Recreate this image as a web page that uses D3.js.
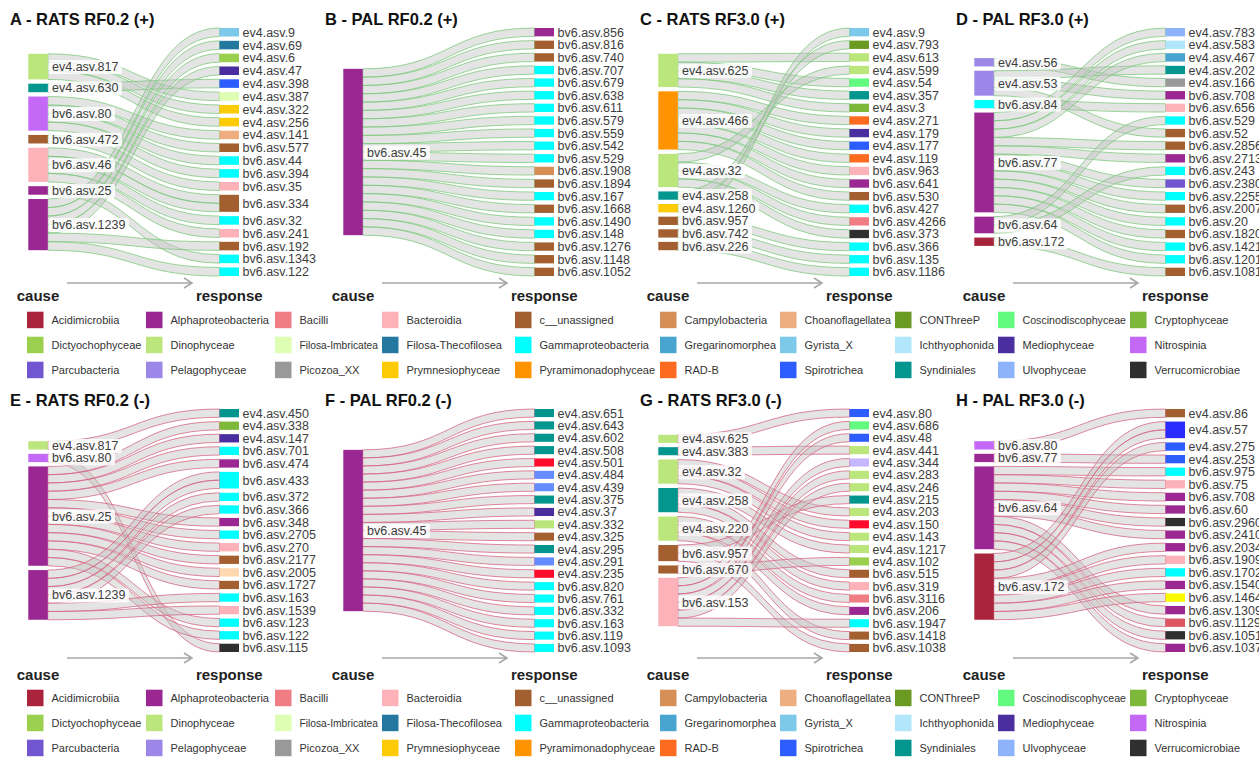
<!DOCTYPE html>
<html>
<head>
<meta charset="utf-8">
<script src="https://cdn.jsdelivr.net/npm/d3@7"></script>
<style>
  html, body { margin: 0; padding: 0; background: #fff; }
  svg { display: block; font-family: "Liberation Sans", Arial, sans-serif; }
</style>
</head>
<body>
<svg id="chart" width="1259" height="757"></svg>
<script>
// ---------------------------------------------------------------
// Legend classes and their colours (alphabetical, 10 per row)
// ---------------------------------------------------------------
const legendClasses = [
  "Acidimicrobiia","Alphaproteobacteria","Bacilli","Bacteroidia","c__unassigned",
  "Campylobacteria","Choanoflagellatea","CONThreeP","Coscinodiscophyceae","Cryptophyceae",
  "Dictyochophyceae","Dinophyceae","Filosa-Imbricatea","Filosa-Thecofilosea","Gammaproteobacteria",
  "Gregarinomorphea","Gyrista_X","Ichthyophonida","Mediophyceae","Nitrospinia",
  "Parcubacteria","Pelagophyceae","Picozoa_XX","Prymnesiophyceae","Pyramimonadophyceae",
  "RAD-B","Spirotrichea","Syndiniales","Ulvophyceae","Verrucomicrobiae"
];
const legendColors = [
  "#a8233b","#9b2793","#f07c84","#fdb1b8","#a35f30",
  "#d68f57","#eeae80","#6a9a22","#62fb80","#7db83a",
  "#9bd04e","#bbe67b","#defeb3","#24789f","#00ffff",
  "#47a5d0","#7dc9ea","#b2e6fb","#4a2d9e","#c468f8",
  "#7255d0","#9c87e8","#999999","#fdca06","#ff9400",
  "#fd6b20","#2d5dff","#02968e","#8cb3fb","#2f2f2f"
];
// classes that appear on nodes but are not part of the legend
const unlistedClasses = ["unlisted_red","unlisted_blue","unlisted_deepblue","unlisted_yellow","unlisted_lavender","unlisted_peach","unlisted_rose"];
const unlistedColors  = ["#ff0c2c","#668dff","#2a2cff","#fafa00","#c6b6ff","#ffd8b0","#dc5560"];

// ---------------------------------------------------------------
// A - RATS RF0.2 (+)
// ---------------------------------------------------------------
const panelA_cause = ["ev4.asv.817","ev4.asv.630","bv6.asv.80","bv6.asv.472","bv6.asv.46","bv6.asv.25","bv6.asv.1239"];
const panelA_causeClass = ["Dinophyceae","Syndiniales","Nitrospinia","c__unassigned","Bacteroidia","Alphaproteobacteria","Alphaproteobacteria"];
const panelA_response = ["ev4.asv.9","ev4.asv.69","ev4.asv.6","ev4.asv.47","ev4.asv.398","ev4.asv.387","ev4.asv.322","ev4.asv.256","ev4.asv.141","bv6.asv.577","bv6.asv.44","bv6.asv.394","bv6.asv.35","bv6.asv.334","bv6.asv.32","bv6.asv.241","bv6.asv.192","bv6.asv.1343","bv6.asv.122"];
const panelA_responseClass = ["Gyrista_X","Filosa-Thecofilosea","Dictyochophyceae","Mediophyceae","Spirotrichea","Filosa-Imbricatea","Prymnesiophyceae","Prymnesiophyceae","Choanoflagellatea","c__unassigned","Gammaproteobacteria","Gammaproteobacteria","Bacteroidia","c__unassigned","Gammaproteobacteria","Bacteroidia","c__unassigned","Gammaproteobacteria","Gammaproteobacteria"];
const panelA_links = [
  ["ev4.asv.817", ["ev4.asv.387","ev4.asv.322","ev4.asv.256"]],
  ["ev4.asv.630", ["ev4.asv.398"]],
  ["bv6.asv.80", ["ev4.asv.141","bv6.asv.577","bv6.asv.44","bv6.asv.394"]],
  ["bv6.asv.472", ["bv6.asv.35"]],
  ["bv6.asv.46", ["bv6.asv.334","bv6.asv.334","bv6.asv.32","bv6.asv.241"]],
  ["bv6.asv.25", ["bv6.asv.1343"]],
  ["bv6.asv.1239", ["ev4.asv.9","ev4.asv.69","ev4.asv.6","ev4.asv.47","bv6.asv.192","bv6.asv.122"]]
];

// ---------------------------------------------------------------
// B - PAL RF0.2 (+)
// ---------------------------------------------------------------
const panelB_cause = ["bv6.asv.45"];
const panelB_causeClass = ["Alphaproteobacteria"];
const panelB_response = ["bv6.asv.856","bv6.asv.816","bv6.asv.740","bv6.asv.707","bv6.asv.679","bv6.asv.638","bv6.asv.611","bv6.asv.579","bv6.asv.559","bv6.asv.542","bv6.asv.529","bv6.asv.1908","bv6.asv.1894","bv6.asv.167","bv6.asv.1668","bv6.asv.1490","bv6.asv.148","bv6.asv.1276","bv6.asv.1148","bv6.asv.1052"];
const panelB_responseClass = ["Alphaproteobacteria","c__unassigned","c__unassigned","Gammaproteobacteria","Gammaproteobacteria","Gammaproteobacteria","Gammaproteobacteria","Gammaproteobacteria","Gammaproteobacteria","Gammaproteobacteria","Gammaproteobacteria","Campylobacteria","c__unassigned","Gammaproteobacteria","c__unassigned","Gammaproteobacteria","Gammaproteobacteria","c__unassigned","c__unassigned","c__unassigned"];
const panelB_links = [
  ["bv6.asv.45", panelB_response]
];

// ---------------------------------------------------------------
// C - RATS RF3.0 (+)
// ---------------------------------------------------------------
const panelC_cause = ["ev4.asv.625","ev4.asv.466","ev4.asv.32","ev4.asv.258","ev4.asv.1260","bv6.asv.957","bv6.asv.742","bv6.asv.226"];
const panelC_causeClass = ["Dinophyceae","Pyramimonadophyceae","Dinophyceae","Syndiniales","Prymnesiophyceae","c__unassigned","c__unassigned","c__unassigned"];
const panelC_response = ["ev4.asv.9","ev4.asv.793","ev4.asv.613","ev4.asv.599","ev4.asv.54","ev4.asv.357","ev4.asv.3","ev4.asv.271","ev4.asv.179","ev4.asv.177","ev4.asv.119","bv6.asv.963","bv6.asv.641","bv6.asv.530","bv6.asv.427","bv6.asv.4266","bv6.asv.373","bv6.asv.366","bv6.asv.135","bv6.asv.1186"];
const panelC_responseClass = ["Gyrista_X","CONThreeP","Dinophyceae","Dinophyceae","Coscinodiscophyceae","Syndiniales","Cryptophyceae","RAD-B","Mediophyceae","Spirotrichea","RAD-B","Bacteroidia","Alphaproteobacteria","c__unassigned","Gammaproteobacteria","Bacilli","Verrucomicrobiae","Gammaproteobacteria","Gammaproteobacteria","Gammaproteobacteria"];
const panelC_links = [
  ["ev4.asv.625", ["ev4.asv.613","ev4.asv.54","ev4.asv.357","ev4.asv.3"]],
  ["ev4.asv.466", ["ev4.asv.271","ev4.asv.179","ev4.asv.177","ev4.asv.119","bv6.asv.963","bv6.asv.641","bv6.asv.530"]],
  ["ev4.asv.32", ["ev4.asv.599","bv6.asv.427","bv6.asv.4266","bv6.asv.373"]],
  ["ev4.asv.258", ["ev4.asv.793"]],
  ["ev4.asv.1260", ["ev4.asv.9"]],
  ["bv6.asv.957", ["bv6.asv.366"]],
  ["bv6.asv.742", ["bv6.asv.135"]],
  ["bv6.asv.226", ["bv6.asv.1186"]]
];

// ---------------------------------------------------------------
// D - PAL RF3.0 (+)
// ---------------------------------------------------------------
const panelD_cause = ["ev4.asv.56","ev4.asv.53","bv6.asv.84","bv6.asv.77","bv6.asv.64","bv6.asv.172"];
const panelD_causeClass = ["Pelagophyceae","Pelagophyceae","Gammaproteobacteria","Alphaproteobacteria","Alphaproteobacteria","Acidimicrobiia"];
const panelD_response = ["ev4.asv.783","ev4.asv.583","ev4.asv.467","ev4.asv.202","ev4.asv.166","bv6.asv.708","bv6.asv.656","bv6.asv.529","bv6.asv.52","bv6.asv.2856","bv6.asv.2713","bv6.asv.243","bv6.asv.2380","bv6.asv.2255","bv6.asv.2007","bv6.asv.20","bv6.asv.1820","bv6.asv.1421","bv6.asv.1201","bv6.asv.1081"];
const panelD_responseClass = ["Ulvophyceae","Ichthyophonida","Gregarinomorphea","Syndiniales","Picozoa_XX","Alphaproteobacteria","Bacteroidia","Gammaproteobacteria","c__unassigned","c__unassigned","Alphaproteobacteria","Gammaproteobacteria","Parcubacteria","Gammaproteobacteria","c__unassigned","Gammaproteobacteria","c__unassigned","Gammaproteobacteria","Gammaproteobacteria","c__unassigned"];
const panelD_links = [
  ["ev4.asv.56", ["ev4.asv.166"]],
  ["ev4.asv.53", ["ev4.asv.202","bv6.asv.708","bv6.asv.52"]],
  ["bv6.asv.84", ["bv6.asv.656"]],
  ["bv6.asv.77", ["ev4.asv.783","ev4.asv.583","ev4.asv.467","bv6.asv.2856","bv6.asv.2713","bv6.asv.2380","bv6.asv.2255","bv6.asv.2007","bv6.asv.20","bv6.asv.1820","bv6.asv.1421","bv6.asv.1201"]],
  ["bv6.asv.64", ["bv6.asv.529","bv6.asv.243"]],
  ["bv6.asv.172", ["bv6.asv.1081"]]
];

// ---------------------------------------------------------------
// E - RATS RF0.2 (-)
// ---------------------------------------------------------------
const panelE_cause = ["ev4.asv.817","bv6.asv.80","bv6.asv.25","bv6.asv.1239"];
const panelE_causeClass = ["Dinophyceae","Nitrospinia","Alphaproteobacteria","Alphaproteobacteria"];
const panelE_response = ["ev4.asv.450","ev4.asv.338","ev4.asv.147","bv6.asv.701","bv6.asv.474","bv6.asv.433","bv6.asv.372","bv6.asv.366","bv6.asv.348","bv6.asv.2705","bv6.asv.270","bv6.asv.2177","bv6.asv.2005","bv6.asv.1727","bv6.asv.163","bv6.asv.1539","bv6.asv.123","bv6.asv.122","bv6.asv.115"];
const panelE_responseClass = ["Syndiniales","Cryptophyceae","Mediophyceae","Gammaproteobacteria","Alphaproteobacteria","Gammaproteobacteria","Gammaproteobacteria","Gammaproteobacteria","Alphaproteobacteria","Gammaproteobacteria","Bacteroidia","c__unassigned","unlisted_peach","c__unassigned","Gammaproteobacteria","Bacteroidia","Gammaproteobacteria","Gammaproteobacteria","Verrucomicrobiae"];
const panelE_links = [
  ["ev4.asv.817", ["ev4.asv.450"]],
  ["bv6.asv.80", ["bv6.asv.115"]],
  ["bv6.asv.25", ["ev4.asv.338","ev4.asv.147","bv6.asv.701","bv6.asv.474","bv6.asv.348","bv6.asv.2705","bv6.asv.270","bv6.asv.2177","bv6.asv.2005","bv6.asv.1727","bv6.asv.123","bv6.asv.122"]],
  ["bv6.asv.1239", ["bv6.asv.433","bv6.asv.433","bv6.asv.372","bv6.asv.366","bv6.asv.163","bv6.asv.1539"]]
];

// ---------------------------------------------------------------
// F - PAL RF0.2 (-)
// ---------------------------------------------------------------
const panelF_cause = ["bv6.asv.45"];
const panelF_causeClass = ["Alphaproteobacteria"];
const panelF_response = ["ev4.asv.651","ev4.asv.643","ev4.asv.602","ev4.asv.508","ev4.asv.501","ev4.asv.484","ev4.asv.439","ev4.asv.375","ev4.asv.37","ev4.asv.332","ev4.asv.325","ev4.asv.295","ev4.asv.291","ev4.asv.235","bv6.asv.820","bv6.asv.761","bv6.asv.332","bv6.asv.163","bv6.asv.119","bv6.asv.1093"];
const panelF_responseClass = ["Syndiniales","Syndiniales","Syndiniales","Syndiniales","unlisted_red","unlisted_blue","unlisted_blue","Syndiniales","Mediophyceae","Dinophyceae","c__unassigned","Syndiniales","unlisted_blue","unlisted_red","Gammaproteobacteria","Gammaproteobacteria","Gammaproteobacteria","Gammaproteobacteria","Gammaproteobacteria","Gammaproteobacteria"];
const panelF_links = [
  ["bv6.asv.45", panelF_response]
];

// ---------------------------------------------------------------
// G - RATS RF3.0 (-)
// ---------------------------------------------------------------
const panelG_cause = ["ev4.asv.625","ev4.asv.383","ev4.asv.32","ev4.asv.258","ev4.asv.220","bv6.asv.957","bv6.asv.670","bv6.asv.153"];
const panelG_causeClass = ["Dinophyceae","Syndiniales","Dinophyceae","Syndiniales","Dinophyceae","c__unassigned","c__unassigned","Bacteroidia"];
const panelG_response = ["ev4.asv.80","ev4.asv.686","ev4.asv.48","ev4.asv.441","ev4.asv.344","ev4.asv.283","ev4.asv.246","ev4.asv.215","ev4.asv.203","ev4.asv.150","ev4.asv.143","ev4.asv.1217","ev4.asv.102","bv6.asv.515","bv6.asv.319","bv6.asv.3116","bv6.asv.206","bv6.asv.1947","bv6.asv.1418","bv6.asv.1038"];
const panelG_responseClass = ["Spirotrichea","Coscinodiscophyceae","Spirotrichea","Dinophyceae","unlisted_lavender","Dinophyceae","Dinophyceae","Syndiniales","Dinophyceae","unlisted_red","Dinophyceae","Dinophyceae","Dictyochophyceae","c__unassigned","Bacteroidia","Bacilli","Alphaproteobacteria","Gammaproteobacteria","c__unassigned","c__unassigned"];
const panelG_links = [
  ["ev4.asv.625", ["ev4.asv.80"]],
  ["ev4.asv.383", ["ev4.asv.441"]],
  ["ev4.asv.32", ["ev4.asv.203","ev4.asv.150","ev4.asv.143"]],
  ["ev4.asv.258", ["ev4.asv.1217","bv6.asv.515","bv6.asv.319"]],
  ["ev4.asv.220", ["bv6.asv.3116","bv6.asv.206","bv6.asv.1418"]],
  ["bv6.asv.957", ["ev4.asv.215","bv6.asv.1038"]],
  ["bv6.asv.670", ["ev4.asv.102"]],
  ["bv6.asv.153", ["ev4.asv.686","ev4.asv.48","ev4.asv.344","ev4.asv.283","ev4.asv.246","bv6.asv.1947"]]
];

// ---------------------------------------------------------------
// H - PAL RF3.0 (-)
// ---------------------------------------------------------------
const panelH_cause = ["bv6.asv.80","bv6.asv.77","bv6.asv.64","bv6.asv.172"];
const panelH_causeClass = ["Nitrospinia","Alphaproteobacteria","Alphaproteobacteria","Acidimicrobiia"];
const panelH_response = ["ev4.asv.86","ev4.asv.57","ev4.asv.275","ev4.asv.253","bv6.asv.975","bv6.asv.75","bv6.asv.708","bv6.asv.60","bv6.asv.2960","bv6.asv.2410","bv6.asv.2034","bv6.asv.1909","bv6.asv.1702","bv6.asv.1540","bv6.asv.1464","bv6.asv.1309","bv6.asv.1129","bv6.asv.1051","bv6.asv.1037"];
const panelH_responseClass = ["c__unassigned","unlisted_deepblue","Spirotrichea","Spirotrichea","Gammaproteobacteria","Bacteroidia","Alphaproteobacteria","Alphaproteobacteria","Verrucomicrobiae","Alphaproteobacteria","Alphaproteobacteria","Bacteroidia","Gammaproteobacteria","Alphaproteobacteria","unlisted_yellow","Alphaproteobacteria","unlisted_rose","Verrucomicrobiae","Alphaproteobacteria"];
const panelH_links = [
  ["bv6.asv.80", ["ev4.asv.86"]],
  ["bv6.asv.77", ["ev4.asv.253"]],
  ["bv6.asv.64", ["bv6.asv.975","bv6.asv.75","bv6.asv.708","bv6.asv.60","bv6.asv.2960","bv6.asv.2410","bv6.asv.1309","bv6.asv.1129","bv6.asv.1051","bv6.asv.1037"]],
  ["bv6.asv.172", ["ev4.asv.57","ev4.asv.57","ev4.asv.275","bv6.asv.2034","bv6.asv.1909","bv6.asv.1702","bv6.asv.1540","bv6.asv.1464"]]
];

const panelTitles = ["A - RATS RF0.2 (+)","B - PAL RF0.2 (+)","C - RATS RF3.0 (+)","D - PAL RF3.0 (+)",
                     "E - RATS RF0.2 (-)","F - PAL RF0.2 (-)","G - RATS RF3.0 (-)","H - PAL RF3.0 (-)"];
const panelSigns = ["+","+","+","+","-","-","-","-"];

// ---------------------------------------------------------------
// Layout
// ---------------------------------------------------------------
const svg = d3.select("#chart");
svg.append("rect").attr("width", 1259).attr("height", 757).attr("fill", "#fff");

const colorOf = d3.scaleOrdinal()
  .domain(legendClasses.concat(unlistedClasses))
  .range(legendColors.concat(unlistedColors));

const panelX = [0, 315, 630, 946];
const rows = [
  { titleY: 25,  top: 28,  bottom: 276, arrowY: 283, footY: 301, legendY: 320 },
  { titleY: 406, top: 409, bottom: 652, arrowY: 658, footY: 680, legendY: 698 }
];
const NODE_W = 19.5;
const LEFT_X = 28.3, RIGHT_X = 219.5;
const PAD = 4.3;
const linkStroke = { "+": "#78c878", "-": "#d6607f" };

const panels = [
  [panelA_cause, panelA_causeClass, panelA_response, panelA_responseClass, panelA_links],
  [panelB_cause, panelB_causeClass, panelB_response, panelB_responseClass, panelB_links],
  [panelC_cause, panelC_causeClass, panelC_response, panelC_responseClass, panelC_links],
  [panelD_cause, panelD_causeClass, panelD_response, panelD_responseClass, panelD_links],
  [panelE_cause, panelE_causeClass, panelE_response, panelE_responseClass, panelE_links],
  [panelF_cause, panelF_causeClass, panelF_response, panelF_responseClass, panelF_links],
  [panelG_cause, panelG_causeClass, panelG_response, panelG_responseClass, panelG_links],
  [panelH_cause, panelH_causeClass, panelH_response, panelH_responseClass, panelH_links]
];

function bandPath(x0, s, x1, t, w) {
  const xm = (x0 + x1) / 2;
  const p = d3.path();
  p.moveTo(x0, s);
  p.bezierCurveTo(xm, s, xm, t, x1, t);
  p.lineTo(x1, t + w);
  p.bezierCurveTo(xm, t + w, xm, s + w, x0, s + w);
  p.closePath();
  return p.toString();
}

panels.forEach(([causes, causeCls, responses, respCls, linkGroups], i) => {
  const row = rows[Math.floor(i / 4)];
  const ox = panelX[i % 4];
  const sign = panelSigns[i];
  const g = svg.append("g").attr("transform", `translate(${ox},0)`);

  // flatten the link lists: each association carries one unit
  const links = [];
  linkGroups.forEach(([c, targets]) => targets.forEach(t => links.push({
    s: causes.indexOf(c), t: responses.indexOf(t), value: 1
  })));

  const causeNodes = causes.map((name, k) => ({ name, cls: causeCls[k], idx: k,
    value: d3.sum(links.filter(l => l.s === k), l => l.value) }));
  const respNodes = responses.map((name, k) => ({ name, cls: respCls[k], idx: k,
    value: d3.sum(links.filter(l => l.t === k), l => l.value) }));

  const total = d3.sum(links, l => l.value);
  const span = row.bottom - row.top;
  const ky = Math.min(
    (span - (causeNodes.length - 1) * PAD) / total,
    (span - (respNodes.length - 1) * PAD) / total);
  const h = d3.scaleLinear().domain([0, total]).range([0, total * ky]);

  function stack(nodes) {
    const full = h(total) + (nodes.length - 1) * PAD;
    let y = row.top + (span - full) / 2;
    nodes.forEach(n => { n.y0 = y; n.y1 = y + h(n.value); y = n.y1 + PAD; });
  }
  stack(causeNodes);
  stack(respNodes);

  // link offsets at each end: sorted by the position of the opposite node
  causeNodes.forEach(n => {
    let y = n.y0;
    links.filter(l => l.s === n.idx).sort((a, b) => a.t - b.t)
      .forEach(l => { l.sy = y; y += h(l.value); });
  });
  respNodes.forEach(n => {
    let y = n.y0;
    links.filter(l => l.t === n.idx).sort((a, b) => a.s - b.s)
      .forEach(l => { l.ty = y; y += h(l.value); });
  });

  // links
  g.append("g").selectAll("path").data(links).join("path")
    .attr("d", l => bandPath(LEFT_X + NODE_W, l.sy, RIGHT_X, l.ty, h(l.value)))
    .attr("fill", "#c4c4c4").attr("fill-opacity", 0.45)
    .attr("stroke", linkStroke[sign]).attr("stroke-opacity", 0.75).attr("stroke-width", 1);

  // nodes
  g.append("g").selectAll("rect").data(causeNodes).join("rect")
    .attr("x", LEFT_X).attr("width", NODE_W)
    .attr("y", n => n.y0).attr("height", n => n.y1 - n.y0)
    .attr("fill", n => colorOf(n.cls));
  g.append("g").selectAll("rect").data(respNodes).join("rect")
    .attr("x", RIGHT_X).attr("width", NODE_W)
    .attr("y", n => n.y0).attr("height", n => n.y1 - n.y0)
    .attr("fill", n => colorOf(n.cls));

  // cause labels on a light box
  const cl = g.append("g").selectAll("g").data(causeNodes).join("g");
  cl.append("text")
    .attr("x", LEFT_X + NODE_W + 4.2).attr("y", n => (n.y0 + n.y1) / 2).attr("dy", "0.36em")
    .attr("font-size", 12.5).attr("fill", "#3d3d3d").text(n => n.name);
  cl.each(function () {
    const grp = d3.select(this);
    const bb = grp.select("text").node().getBBox();
    grp.insert("rect", "text")
      .attr("x", bb.x - 3.4).attr("y", bb.y).attr("width", bb.width + 6.8).attr("height", bb.height)
      .attr("rx", 2).attr("fill", "#fff").attr("fill-opacity", 0.82);
  });

  // response labels
  g.append("g").selectAll("text").data(respNodes).join("text")
    .attr("x", RIGHT_X + NODE_W + 3.5).attr("y", n => (n.y0 + n.y1) / 2).attr("dy", "0.36em")
    .attr("font-size", 12.5).attr("fill", "#3d3d3d").text(n => n.name);

  // title
  g.append("text").attr("x", 10).attr("y", row.titleY)
    .attr("font-size", 16.5).attr("font-weight", "bold").attr("fill", "#111")
    .text(panelTitles[i]);

  // direction arrow and axis captions
  const ay = row.arrowY, ax0 = 67, ax1 = 192;
  g.append("path")
    .attr("d", `M${ax0},${ay}L${ax1},${ay}M${ax1 - 8},${ay - 5}L${ax1},${ay}L${ax1 - 8},${ay + 5}`)
    .attr("fill", "none").attr("stroke", "#a8a8a8").attr("stroke-width", 1.6);
  g.append("text").attr("x", LEFT_X + NODE_W / 2).attr("y", row.footY).attr("text-anchor", "middle")
    .attr("font-size", 15).attr("font-weight", "bold").attr("fill", "#222").text("cause");
  g.append("text").attr("x", RIGHT_X + NODE_W / 2).attr("y", row.footY).attr("text-anchor", "middle")
    .attr("font-size", 15).attr("font-weight", "bold").attr("fill", "#222").text("response");
});

// ---------------------------------------------------------------
// Legends (one under each row of panels)
// ---------------------------------------------------------------
const legendColX = [27, 146, 275, 382, 515, 660, 780, 895, 998, 1130];
const LEGEND_TEXT_DX = 24.5;
rows.forEach(row => {
  const lg = svg.append("g");
  const item = lg.selectAll("g").data(legendClasses).join("g")
    .attr("transform", (d, k) => `translate(${legendColX[k % 10]},${row.legendY + (Math.floor(k / 10)) * 25})`);
  item.append("rect").attr("x", 0).attr("y", -8.3).attr("width", 16.5).attr("height", 16.5)
    .attr("fill", d => colorOf(d));
  item.append("text").attr("x", LEGEND_TEXT_DX).attr("y", 0).attr("dy", "0.36em")
    .attr("font-size", 11).attr("fill", "#333").text(d => d)
    .each(function (d, k) {
      // keep each entry inside its column
      const col = k % 10;
      const room = (col < 9 ? legendColX[col + 1] : 1259) - legendColX[col] - LEGEND_TEXT_DX - 4;
      const w = this.getComputedTextLength();
      if (w > room) {
        d3.select(this).attr("textLength", room).attr("lengthAdjust", "spacingAndGlyphs");
      }
    });
});
</script>
</body>
</html>
